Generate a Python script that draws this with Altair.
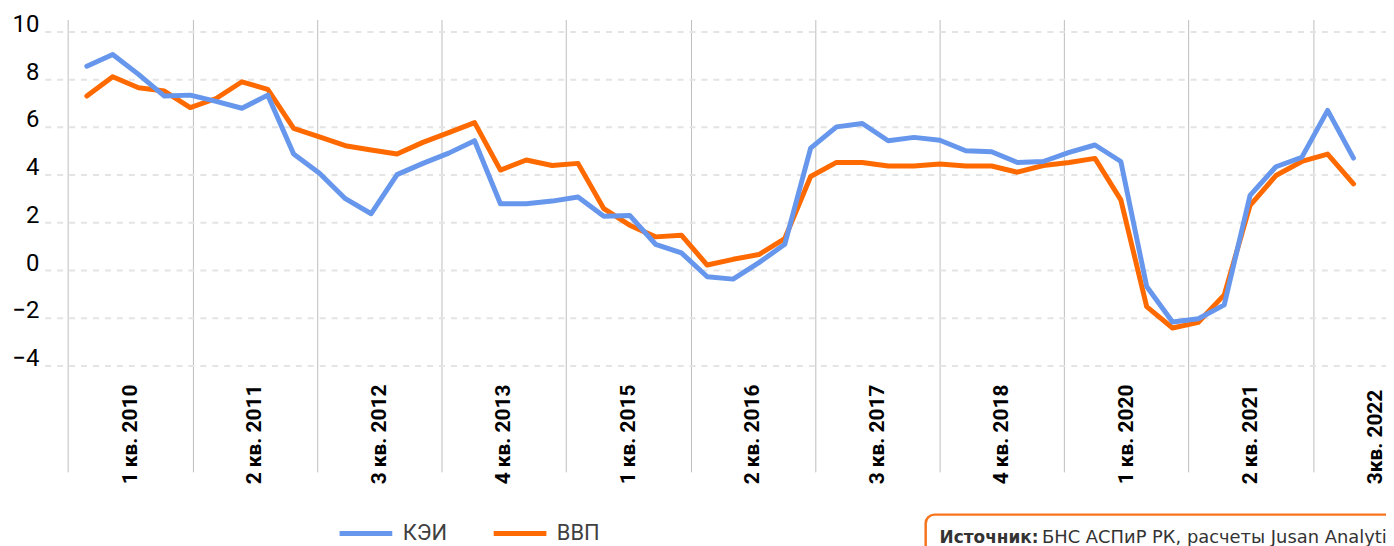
import json
import altair as alt
import pandas as pd

# ---- data ----
quarter_index = list(range(50))
kei = [8.54, 9.03, 8.2, 7.29, 7.33, 7.07, 6.78, 7.33, 4.86, 4.06, 2.99, 2.36, 4.0, 4.47, 4.9, 5.42,
       2.78, 2.78, 2.89, 3.06, 2.25, 2.29, 1.08, 0.72, -0.28, -0.38, 0.31, 1.08, 5.11, 6.0, 6.14,
       5.42, 5.56, 5.44, 5.0, 4.96, 4.51, 4.55, 4.93, 5.24, 4.55, -0.69, -2.18, -2.04, -1.46, 3.13,
       4.33, 4.72, 6.69, 4.69]
gdp = [7.29, 8.1, 7.64, 7.5, 6.81, 7.19, 7.89, 7.57, 5.94, 5.58, 5.21, 5.03, 4.86, 5.35, 5.76, 6.18,
       4.19, 4.61, 4.38, 4.47, 2.57, 1.88, 1.39, 1.46, 0.21, 0.45, 0.65, 1.32, 3.92, 4.51, 4.51,
       4.36, 4.36, 4.44, 4.36, 4.36, 4.1, 4.38, 4.51, 4.68, 2.94, -1.53, -2.43, -2.19, -1.04, 2.71,
       3.96, 4.55, 4.86, 3.61]
series_names = ["КЭИ", "ВВП"]
series_colors = ["#6797EC", "#FF6A00"]
x_labels = ["1 кв. 2010", "2 кв. 2011", "3 кв. 2012", "4 кв. 2013", "1 кв. 2015", "2 кв. 2016",
            "3 кв. 2017", "4 кв. 2018", "1 кв. 2020", "2 кв. 2021", "3кв. 2022"]
y_ticks = [-4, -2, 0, 2, 4, 6, 8, 10]
source_bold = "Источник:"
source_text = "БНС АСПиР РК, расчеты Jusan Analytics"

# axis layout constants (in quarter-index units)
GRID_START = -0.731
GRID_STEP = 4.817
x_tick_values = [round(GRID_START + k * GRID_STEP, 3) for k in range(len(x_labels))]

df = pd.DataFrame({
    "q": quarter_index * 2,
    "v": kei + gdp,
    "s": [series_names[0]] * len(kei) + [series_names[1]] * len(gdp),
})

label_expr = (json.dumps(x_labels, ensure_ascii=False)
              + f"[round((datum.value - ({GRID_START})) / {GRID_STEP})]")

x_enc = alt.X("q:Q", scale=alt.Scale(domain=[-1.627, 50.258], nice=False, zero=False),
              axis=alt.Axis(values=x_tick_values, grid=True, gridColor="#BDBDBD", gridWidth=1,
                            domain=False, ticks=False, title=None,
                            labelExpr=label_expr, labelAngle=270, labelAlign="left",
                            labelBaseline="middle", labelOffset=62.5, labelPadding=12,
                            labelFlush=False, labelOverlap=False, labelBound=False,
                            labelFont="Roboto", labelFontWeight="bold", labelFontSize=21,
                            labelColor="#000000"))
y_enc = alt.Y("v:Q", scale=alt.Scale(domain=[-8.458, 10.5], nice=False, zero=False),
              axis=alt.Axis(values=y_ticks, grid=True, gridColor="#E4E4E4", gridWidth=2,
                            gridDash=[6, 6], domain=False, ticks=False, title=None,
                            labelFont="Roboto", labelFontSize=24, labelColor="#000000",
                            labelPadding=6, labelOffset=-7))
color_enc = alt.Color("s:N", scale=alt.Scale(domain=series_names, range=series_colors),
                      legend=alt.Legend(title=None, orient="none", legendX=294, legendY=488,
                                        direction="horizontal", symbolType="stroke",
                                        symbolSize=2809, symbolStrokeWidth=5,
                                        labelFont="Roboto", labelFontSize=22,
                                        labelColor="#404040", labelOffset=8,
                                        columnPadding=36, padding=0))

base = alt.Chart(df)
line_gdp = base.transform_filter(alt.datum.s == series_names[1]).mark_line(
    strokeWidth=5, strokeCap="round", strokeJoin="round").encode(x=x_enc, y=y_enc, color=color_enc)
line_kei = base.transform_filter(alt.datum.s == series_names[0]).mark_line(
    strokeWidth=5, strokeCap="round", strokeJoin="round").encode(x=x_enc, y=y_enc, color=color_enc)

one = alt.Chart(pd.DataFrame({"a": [0]}))
box = one.mark_rect(fill="white", stroke="#F7741E", strokeWidth=2.5, cornerRadius=9).encode(
    x=alt.value(886), x2=alt.value(1400), y=alt.value(498), y2=alt.value(560))
src1 = one.mark_text(text=source_bold, font="DejaVu Sans", fontWeight="bold", fontSize=17,
                     color="#333333", align="left", baseline="alphabetic").encode(
    x=alt.value(900), y=alt.value(527))
src2 = one.mark_text(text=source_text, font="DejaVu Sans", fontSize=18,
                     color="#333333", align="left", baseline="alphabetic").encode(
    x=alt.value(1003), y=alt.value(527))

chart = alt.layer(line_gdp, line_kei, box, src1, src2).properties(
    width=1349, height=455,
    autosize=alt.AutoSizeParams(type="none"),
    padding={"left": 37, "top": 10, "right": 0, "bottom": 73},
    background="white",
).configure_view(stroke=None)

chart.save("out.html", embed_options={"renderer": "svg", "actions": False})
